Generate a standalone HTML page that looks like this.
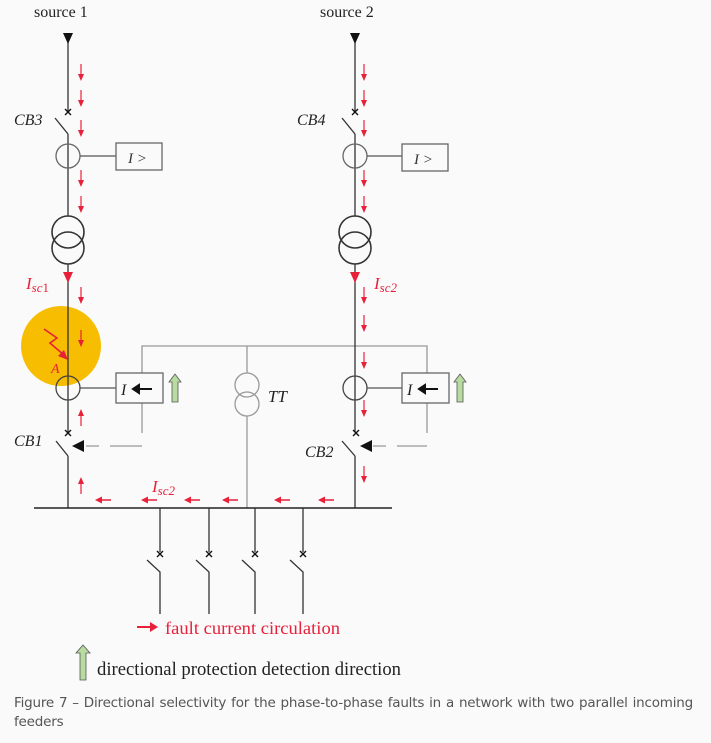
<!DOCTYPE html>
<html><head><meta charset="utf-8"><style>
body{margin:0;background:#fafafa;width:711px;height:743px;overflow:hidden}
.cap{position:absolute;left:14px;top:694px;width:679px;font:13.5px "DejaVu Sans","Liberation Sans",sans-serif;color:#555;text-align:justify;text-align-last:left;line-height:19px;letter-spacing:-0.2px}
</style></head><body>
<svg width="711" height="743" style="position:absolute;left:0;top:0" font-family="Liberation Serif, serif">
<defs>
<g id="rd"><line x1="0" y1="-10" x2="0" y2="2" stroke="#e8203a" stroke-width="1.2"/><path d="M-3,0 L3,0 L0,7 Z" fill="#e8203a"/></g>
<g id="rl"><line x1="2" y1="0" x2="16" y2="0" stroke="#e8203a" stroke-width="1.5"/><path d="M0,0 L7,-3.5 L7,3.5 Z" fill="#e8203a"/></g>
<g id="ga"><path d="M-3,28 L-3,8 L-6,8 L0,0 L6,8 L3,8 L3,28 Z" fill="#b8dca0" stroke="#555" stroke-width="0.8"/></g>
<g id="xm"><path d="M-3,-3 L3,3 M3,-3 L-3,3" stroke="#111" stroke-width="1.4"/></g>
</defs>
<text x="34" y="17" font-size="16" fill="#222">source 1</text>
<text x="320" y="17" font-size="16" fill="#222">source 2</text>
<circle cx="61" cy="346" r="40" fill="#f7bd00"/>
<g stroke="#999" stroke-width="1.3" fill="none">
<polyline points="142,373 142,346 427,346 427,373"/>
<line x1="247" y1="346" x2="247" y2="373"/>
<line x1="247" y1="416" x2="247" y2="508"/>
<line x1="142" y1="403" x2="142" y2="433"/>
<line x1="427" y1="403" x2="427" y2="433"/>
<path d="M86,446 H99 M110,446 H142" />
<path d="M373,446 H386 M397,446 H427" />
<circle cx="247" cy="385" r="12"/><circle cx="247" cy="404" r="12"/>
</g>
<path d="M72,446 L84,440 L84,452 Z" fill="#111"/>
<path d="M360,446 L372,440 L372,452 Z" fill="#111"/>
<g stroke="#333" stroke-width="1.3" fill="none">
<line x1="68" y1="36" x2="68" y2="111"/>
<line x1="55" y1="118" x2="68" y2="134"/>
<line x1="68" y1="134" x2="68" y2="216"/>
<circle cx="68" cy="156" r="12" stroke="#666"/>
<line x1="80" y1="156" x2="116" y2="156" stroke="#555"/>
<rect x="116" y="143" width="46" height="27" stroke="#666"/>
<circle cx="68" cy="232" r="16" stroke-width="1.6"/><circle cx="68" cy="248" r="16" stroke-width="1.6"/>
<line x1="68" y1="264" x2="68" y2="432"/>
<circle cx="68" cy="388" r="12" stroke="#444"/>
<line x1="80" y1="388" x2="116" y2="388" stroke="#555"/>
<rect x="116" y="373" width="47" height="30" stroke="#666"/>
<line x1="56" y1="441" x2="68" y2="456"/>
<line x1="68" y1="456" x2="68" y2="508"/>
<line x1="355" y1="36" x2="355" y2="111"/>
<line x1="342" y1="118" x2="355" y2="134"/>
<line x1="355" y1="134" x2="355" y2="216"/>
<circle cx="355" cy="156" r="12" stroke="#666"/>
<line x1="367" y1="156" x2="402" y2="156" stroke="#555"/>
<rect x="402" y="144" width="46" height="27" stroke="#666"/>
<circle cx="355" cy="232" r="16" stroke-width="1.6"/><circle cx="355" cy="248" r="16" stroke-width="1.6"/>
<line x1="355" y1="264" x2="355" y2="432"/>
<circle cx="355" cy="388" r="12" stroke="#444"/>
<line x1="367" y1="388" x2="402" y2="388" stroke="#555"/>
<rect x="402" y="373" width="47" height="30" stroke="#666"/>
<line x1="342" y1="441" x2="355" y2="456"/>
<line x1="355" y1="456" x2="355" y2="508"/>
<line x1="34" y1="508" x2="392" y2="508" stroke="#222" stroke-width="1.5"/>
<path d="M160,508 V552 M147,560 L160,572 V614"/>
<path d="M209,508 V552 M196,560 L209,572 V614"/>
<path d="M255,508 V552 M242,560 L255,572 V614"/>
<path d="M303,508 V552 M290,560 L303,572 V614"/>
</g>
<path d="M63,33 L73,33 L68,44 Z" fill="#111"/>
<path d="M350,33 L360,33 L355,44 Z" fill="#111"/>
<use href="#xm" x="68" y="112"/><use href="#xm" x="355" y="112"/>
<use href="#xm" x="68" y="433"/><use href="#xm" x="356" y="433"/>
<use href="#xm" x="160" y="554"/><use href="#xm" x="209" y="554"/><use href="#xm" x="255" y="554"/><use href="#xm" x="303" y="554"/>
<path d="M63,272 L73,272 L68,283 Z" fill="#e8203a"/>
<path d="M350,272 L360,272 L355,283 Z" fill="#e8203a"/>
<text x="128" y="163" font-size="15" font-style="italic" fill="#333">I &gt;</text>
<text x="414" y="164" font-size="15" font-style="italic" fill="#333">I &gt;</text>
<text x="121" y="395" font-size="16" font-style="italic" fill="#222">I</text>
<text x="407" y="395" font-size="16" font-style="italic" fill="#222">I</text>
<path d="M133,389 H152 M133,389 L139,385 L139,393 Z" stroke="#111" stroke-width="2" fill="#111"/>
<path d="M419,389 H438 M419,389 L425,385 L425,393 Z" stroke="#111" stroke-width="2" fill="#111"/>
<use href="#ga" x="175" y="374"/><use href="#ga" x="460" y="374"/>
<text x="268" y="402" font-size="17" font-style="italic" fill="#222">TT</text>
<text x="14" y="125" font-size="16" font-style="italic" fill="#222">CB3</text>
<text x="297" y="125" font-size="16" font-style="italic" fill="#222">CB4</text>
<text x="14" y="446" font-size="16" font-style="italic" fill="#222">CB1</text>
<text x="305" y="457" font-size="16" font-style="italic" fill="#222">CB2</text>
<text x="26" y="289" font-size="17" font-style="italic" fill="#e8203a">I<tspan font-size="13" dy="3">sc</tspan><tspan font-size="13" font-style="normal">1</tspan></text>
<text x="374" y="289" font-size="17" font-style="italic" fill="#e8203a">I<tspan font-size="13" dy="3">sc2</tspan></text>
<text x="152" y="492" font-size="17" font-style="italic" fill="#e8203a">I<tspan font-size="13" dy="3">sc2</tspan></text>
<path d="M44,329 L57,338 L50,343 L64,355" stroke="#e8203a" stroke-width="1.6" fill="none"/>
<path d="M68,360 L58,356 L64,350 Z" fill="#e8203a"/>
<text x="51" y="373" font-size="14" font-style="italic" fill="#e8203a">A</text>
<use href="#rd" x="81" y="74"/><use href="#rd" x="81" y="100"/><use href="#rd" x="81" y="130"/><use href="#rd" x="81" y="180"/><use href="#rd" x="81" y="206"/><use href="#rd" x="81" y="297"/><use href="#rd" x="81" y="340"/>
<g transform="translate(81,416) scale(1,-1)"><use href="#rd"/></g>
<g transform="translate(81,484) scale(1,-1)"><use href="#rd"/></g>
<use href="#rd" x="364" y="74"/><use href="#rd" x="364" y="100"/><use href="#rd" x="364" y="130"/><use href="#rd" x="364" y="180"/><use href="#rd" x="364" y="206"/><use href="#rd" x="364" y="297"/><use href="#rd" x="364" y="325"/><use href="#rd" x="364" y="362"/><use href="#rd" x="364" y="410"/><use href="#rd" x="364" y="476"/>
<use href="#rl" x="95" y="500"/><use href="#rl" x="141" y="500"/><use href="#rl" x="184" y="500"/><use href="#rl" x="222" y="500"/><use href="#rl" x="274" y="500"/><use href="#rl" x="318" y="500"/>
<path d="M137,627 H152" stroke="#e8203a" stroke-width="2"/><path d="M158,627 L150,622 L150,632 Z" fill="#e8203a"/>
<text x="165" y="634" font-size="18" fill="#e8203a" textLength="175" lengthAdjust="spacingAndGlyphs">fault current circulation</text>
<path d="M80,680 L80,653 L76,653 L83,645 L90,653 L86,653 L86,680 Z" fill="#b8dca0" stroke="#555" stroke-width="0.8"/>
<text x="97" y="675" font-size="18.5" fill="#222" textLength="304" lengthAdjust="spacingAndGlyphs">directional protection detection direction</text>
</svg>
<div class="cap">Figure 7 – Directional selectivity for the phase-to-phase faults in a network with two parallel incoming feeders</div>
</body></html>
